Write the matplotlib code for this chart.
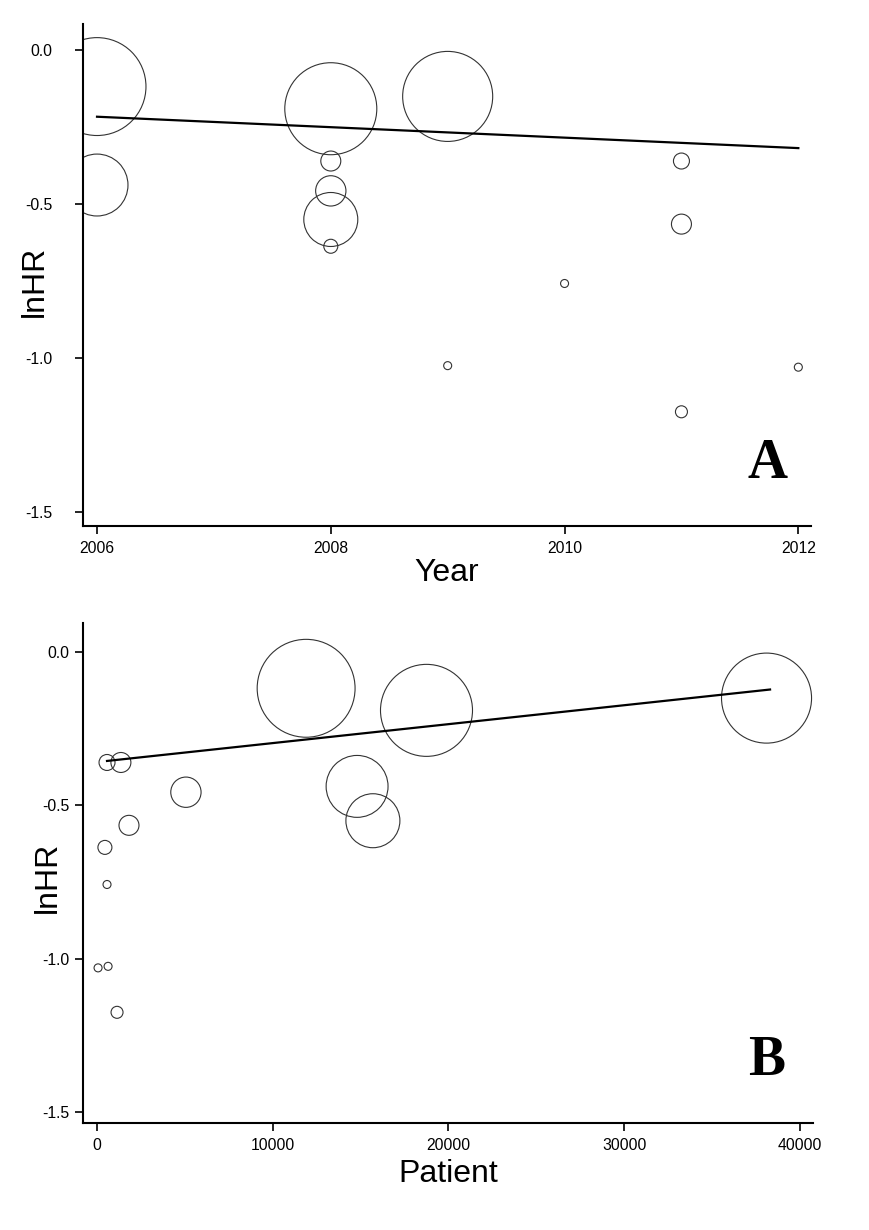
import matplotlib
matplotlib.use("Agg")
import matplotlib.pyplot as plt
import numpy as np

# study-level data
year = [2006, 2006, 2008, 2008, 2008, 2008, 2008, 2009, 2009, 2010, 2011, 2011, 2011, 2012]
patients = [11900, 14800, 18750, 1360, 5060, 15700, 450, 38100, 630, 570, 570, 1820, 1140, 60]
lnhr = [-0.118, -0.438, -0.190, -0.360, -0.457, -0.550, -0.637, -0.150,
        -1.025, -0.758, -0.360, -0.565, -1.175, -1.030]
weight = [24.0, 9.6, 21.2, 1.0, 2.3, 7.3, 0.49, 20.3, 0.16, 0.16, 0.64, 1.0, 0.36, 0.16]

# meta-regression fitted lines (endpoints)
fit_year = [2006, 2012]
fit_lnhr_year = [-0.216, -0.318]
fit_patients = [570, 38300]
fit_lnhr_patients = [-0.355, -0.122]

yticks = [0.0, -0.5, -1.0, -1.5]
ytick_labels = ["0.0", "-0.5", "-1.0", "-1.5"]
year_ticks = [2006, 2008, 2010, 2012]
patient_ticks = [0, 10000, 20000, 30000, 40000]

plt.rcParams['font.family'] = ['Liberation Sans', 'DejaVu Sans']

fig = plt.figure(figsize=(8.7, 12.3), dpi=100)
axA = fig.add_axes([0.0954, 0.5724, 0.837, 0.408])
axB = fig.add_axes([0.0954, 0.0870, 0.839, 0.4065])

sizes = np.array(weight) * 207


def style_axis(ax, ypad, label_x, label_y):
    for side in ['top', 'right']:
        ax.spines[side].set_visible(False)
    for side in ['left', 'bottom']:
        ax.spines[side].set_linewidth(1.5)
    ax.tick_params(direction='out', length=6, width=1.2, labelsize=11.3)
    ax.tick_params(axis='x', pad=5)
    ax.tick_params(axis='y', pad=ypad)
    ax.set_yticks(yticks)
    ax.set_yticklabels(ytick_labels)
    ax.set_ylabel("lnHR", fontsize=23)
    ax.yaxis.set_label_coords(label_x, label_y)


# Panel A: year
axA.scatter(year, lnhr, s=sizes, facecolors='none', edgecolors='#333333', linewidths=0.8)
axA.plot(fit_year, fit_lnhr_year, color='black', lw=1.6)
axA.set_xlim(2005.88, 2012.11)
axA.set_ylim(-1.546, 0.085)
axA.set_xticks(year_ticks)
style_axis(axA, 16, -0.046, 0.488)
axA.set_xlabel("Year", fontsize=23, labelpad=1)
axA.text(0.94, 0.095, "A", transform=axA.transAxes, ha='center', va='baseline',
         fontsize=40, fontweight='bold', family='Liberation Serif')

# Panel B: patients
axB.scatter(patients, lnhr, s=sizes, facecolors='none', edgecolors='#333333', linewidths=0.8)
axB.plot(fit_patients, fit_lnhr_patients, color='black', lw=1.6)
axB.set_xlim(-797, 40740)
axB.set_ylim(-1.536, 0.095)
axB.set_xticks(patient_ticks)
style_axis(axB, 4, -0.027, 0.492)
axB.set_xlabel("Patient", fontsize=23, labelpad=4)
axB.text(0.937, 0.096, "B", transform=axB.transAxes, ha='center', va='baseline',
         fontsize=40, fontweight='bold', family='Liberation Serif')

fig.savefig("out.png", dpi=100, facecolor='white')
